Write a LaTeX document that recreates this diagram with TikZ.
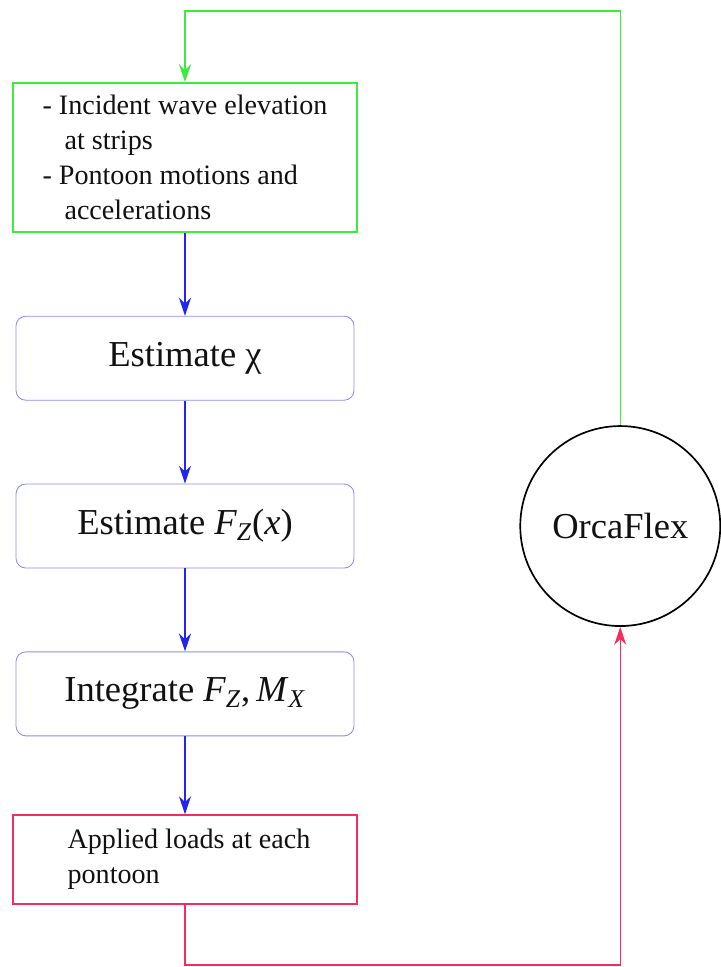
\documentclass[tikz,border=0pt]{standalone}
\usepackage{fontspec}
\setmainfont{Liberation Serif}
\usepackage{xcolor}
\definecolor{inputGreen}{HTML}{3DEB3D}
\definecolor{flowBlue}{HTML}{2424F0}
\definecolor{stepBlue}{HTML}{8C8CF5}
\definecolor{loadRed}{HTML}{F52D5F}
\definecolor{darkText}{HTML}{111111}
\usepackage{tikz}
\usetikzlibrary{
    arrows.meta,
    positioning,
    calc
}
\tikzset{
    % Base style for all nodes
    flow base/.style={
        text=darkText,
        align=left,
        minimum width=8.6cm,
        inner sep=0pt,
    },
    % Input box - plain rectangle, green frame
    input box/.style={
        flow base,
        rectangle,
        draw=inputGreen,
        line width=1.1pt,
        minimum height=3.725cm,
        font=\fontsize{20}{25}\selectfont,
    },
    % Step boxes - rounded rectangle, thin blue frame
    step box/.style={
        flow base,
        rectangle,
        rounded corners=7pt,
        draw=stepBlue,
        line width=0.6pt,
        minimum width=8.45cm,
        minimum height=2.1cm,
        font=\fontsize{26}{30}\selectfont,
    },
    % Load box - plain rectangle, red frame
    load box/.style={
        flow base,
        rectangle,
        draw=loadRed,
        line width=1.1pt,
        minimum height=2.225cm,
        font=\fontsize{20}{25}\selectfont,
    },
    % Solver node - black circle
    solver/.style={
        circle,
        draw=black,
        line width=1.2pt,
        minimum size=5cm,
        inner sep=0pt,
        text=darkText,
        font=\fontsize{26}{30}\selectfont,
    },
    % Blue arrow between the steps
    flow arrow/.style={
        -{Stealth[length=4.5mm, width=3mm]},
        line width=1pt,
        draw=flowBlue,
    },
    % Green feedback line back to the inputs
    feedback arrow/.style={
        flow arrow,
        draw=inputGreen,
        line width=0.9pt,
    },
    % Red line from the loads to the solver
    return arrow/.style={
        flow arrow,
        draw=loadRed,
        line width=0.9pt,
    },
}

\begin{document}
\begin{tikzpicture}[node distance=2.075cm]
    \useasboundingbox (0,0) rectangle (18.025,-24.175);

    \node (inputs) [input box] at (4.625,-3.9375)
        {- Incident wave elevation\\
         \hspace{0.55cm}at strips\\
         - Pontoon motions and\\
         \hspace{0.55cm}accelerations};
    \node (chi) [step box, below=of inputs] {Estimate χ};
    \node (force) [step box, below=of chi]
        {Estimate \textit{F}\textsubscript{\textit{Z}}(\textit{x})};
    \node (integ) [step box, below=of force]
        {Integrate \textit{F}\textsubscript{\textit{Z}},\,\textit{M}\textsubscript{\textit{X}}};
    \node (loads) [load box, below=1.95cm of integ]
        {\hspace{0.2cm}Applied loads at each\\\hspace{0.2cm}pontoon};
    \node (orca) [solver, right=4.125cm of force] {OrcaFlex};

    \coordinate (loopTop) at ($(orca.north |- 0,-0.275)$);
    \coordinate (loopBottom) at ($(loads.south |- 0,-24.125)$);

    \draw [flow arrow] (inputs) -- (chi);
    \draw [flow arrow] (chi) -- (force);
    \draw [flow arrow] (force) -- (integ);
    \draw [flow arrow] (integ) -- (loads);
    \draw [feedback arrow] (orca.north) -- (loopTop) -| (inputs.north);
    \draw [return arrow] (loads.south) -- (loopBottom) -| (orca.south);
\end{tikzpicture}
\end{document}
